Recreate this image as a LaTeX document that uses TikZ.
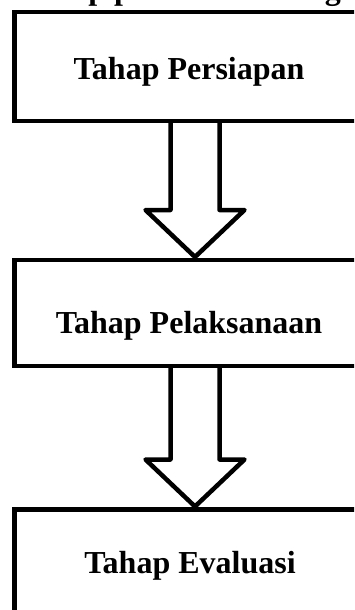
\documentclass[tikz,border=0pt]{standalone}
\usepackage{fontspec}
\setmainfont{Liberation Serif}
\usetikzlibrary{calc}
\begin{document}
\begin{tikzpicture}[x=1pt,y=1pt,
  stagebox/.style={draw=black, line width=4.5pt, rectangle, inner sep=0pt, outer sep=0pt, anchor=north west},
  stagelabel/.style={font=\fontsize{32}{38}\selectfont\bfseries, anchor=base, inner sep=0pt},
  blockarrow/.style={draw=black, line width=4.5pt, line join=round}]
\useasboundingbox (0,0) rectangle (354,-610);
\clip (0,0) rectangle (354,-610);
% title, cut off by the top edge
\node[stagelabel, anchor=base west] (title) at (20,0) {Tahap pelaksanaan kegiatan};
% boxes
\node[stagebox, minimum width=348.5pt, minimum height=109pt] (b1) at (14.5,-12) {};
\node[stagebox, minimum width=348.5pt, minimum height=106pt] (b2) at (14.5,-260) {};
\node[stagebox, minimum width=348.5pt, minimum height=115pt] (b3) at (14.5,-509.5) {};
% labels
\node[stagelabel] (t1) at (189,-79) {Tahap Persiapan};
\node[stagelabel] (t2) at (189,-333) {Tahap Pelaksanaan};
\node[stagelabel] (t3) at (190,-573) {Tahap Evaluasi};
% block arrows
\coordinate (a1top) at ($(b1.south west)+(180.5,0)$);
\coordinate (a1tip) at ($(a1top |- b2.north)+(0,3)$);
\draw[blockarrow] ($(a1top)+(-24.5,0)$) -- ($(a1tip)+(-24.5,47)$) -- ++(-25,0) -- (a1tip)
  -- ($(a1tip)+(49.5,47)$) -- ++(-25,0) -- ($(a1top)+(24.5,0)$);
\coordinate (a2top) at ($(b2.south west)+(180.5,0)$);
\coordinate (a2tip) at ($(a2top |- b3.north)+(0,3)$);
\draw[blockarrow] ($(a2top)+(-24.5,0)$) -- ($(a2tip)+(-24.5,47)$) -- ++(-25,0) -- (a2tip)
  -- ($(a2tip)+(49.5,47)$) -- ++(-25,0) -- ($(a2top)+(24.5,0)$);
\end{tikzpicture}
\end{document}
